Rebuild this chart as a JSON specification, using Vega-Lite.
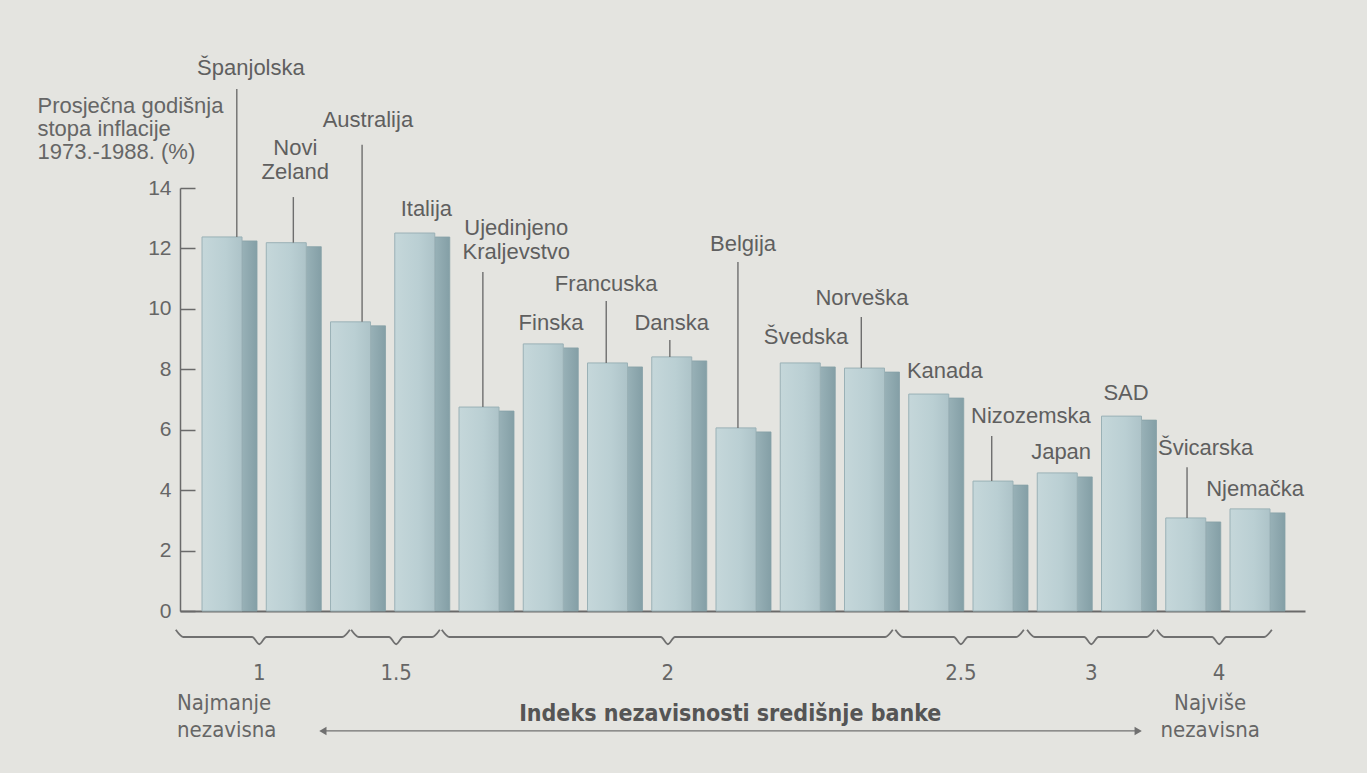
{
  "$schema": "https://vega.github.io/schema/vega-lite/v6.json",
  "width": 1125,
  "height": 423,
  "autosize": {"type": "none"},
  "padding": {"left": 180, "top": 188, "right": 62, "bottom": 162},
  "background": "#e4e4e0",
  "config": {"view": {"stroke": null}, "font": "Liberation Sans"},
  "datasets": {
    "bars": [
      {"pos": 1, "country": "Španjolska", "value": 12.38, "tx": 1.45, "ty": 17.75, "lx": 1.23, "ly": 17.28},
      {"pos": 2, "country": "Novi Zeland", "value": 12.19, "tx": 2.14, "ty": 15.1, "lx": 2.11, "ly": 13.7},
      {"pos": 3, "country": "Australija", "value": 9.57, "tx": 3.27, "ty": 16.02, "lx": 3.18, "ly": 15.43},
      {"pos": 4, "country": "Italija", "value": 12.51, "tx": 4.18, "ty": 13.08, "lx": null, "ly": null},
      {"pos": 5, "country": "Ujedinjeno Kraljevstvo", "value": 6.75, "tx": 5.58, "ty": 12.45, "lx": 5.06, "ly": 11.22},
      {"pos": 6, "country": "Finska", "value": 8.84, "tx": 6.12, "ty": 9.3, "lx": null, "ly": null},
      {"pos": 7, "country": "Francuska", "value": 8.21, "tx": 6.98, "ty": 10.6, "lx": 6.98, "ly": 10.26},
      {"pos": 8, "country": "Danska", "value": 8.41, "tx": 8.0, "ty": 9.3, "lx": 7.97, "ly": 8.97},
      {"pos": 9, "country": "Belgija", "value": 6.06, "tx": 9.11, "ty": 11.92, "lx": 9.03, "ly": 11.55},
      {"pos": 10, "country": "Švedska", "value": 8.21, "tx": 10.09, "ty": 8.84, "lx": null, "ly": null},
      {"pos": 11, "country": "Norveška", "value": 8.04, "tx": 10.96, "ty": 10.13, "lx": 10.95, "ly": 9.73},
      {"pos": 12, "country": "Kanada", "value": 7.18, "tx": 12.25, "ty": 7.72, "lx": null, "ly": null},
      {"pos": 13, "country": "Nizozemska", "value": 4.3, "tx": 13.59, "ty": 6.22, "lx": 12.98, "ly": 5.79},
      {"pos": 14, "country": "Japan", "value": 4.57, "tx": 14.06, "ty": 5.03, "lx": null, "ly": null},
      {"pos": 15, "country": "SAD", "value": 6.45, "tx": 15.07, "ty": 6.99, "lx": null, "ly": null},
      {"pos": 16, "country": "Švicarska", "value": 3.08, "tx": 16.31, "ty": 5.16, "lx": 16.02, "ly": 4.76},
      {"pos": 17, "country": "Njemačka", "value": 3.38, "tx": 17.08, "ty": 3.81, "lx": null, "ly": null}
    ],
    "braces": [
      {"g": "1", "x": 0.28, "y": -0.62}, {"g": "1", "x": 0.4, "y": -0.86}, {"g": "1", "x": 1.47, "y": -0.86}, {"g": "1", "x": 1.58, "y": -1.1}, {"g": "1", "x": 1.69, "y": -0.86}, {"g": "1", "x": 2.87, "y": -0.86}, {"g": "1", "x": 2.99, "y": -0.62},
      {"g": "1.5", "x": 3.01, "y": -0.62}, {"g": "1.5", "x": 3.13, "y": -0.86}, {"g": "1.5", "x": 3.6, "y": -0.86}, {"g": "1.5", "x": 3.71, "y": -1.1}, {"g": "1.5", "x": 3.82, "y": -0.86}, {"g": "1.5", "x": 4.27, "y": -0.86}, {"g": "1.5", "x": 4.39, "y": -0.62},
      {"g": "2", "x": 4.42, "y": -0.62}, {"g": "2", "x": 4.54, "y": -0.86}, {"g": "2", "x": 7.83, "y": -0.86}, {"g": "2", "x": 7.94, "y": -1.1}, {"g": "2", "x": 8.05, "y": -0.86}, {"g": "2", "x": 11.32, "y": -0.86}, {"g": "2", "x": 11.44, "y": -0.62},
      {"g": "2.5", "x": 11.48, "y": -0.62}, {"g": "2.5", "x": 11.6, "y": -0.86}, {"g": "2.5", "x": 12.39, "y": -0.86}, {"g": "2.5", "x": 12.5, "y": -1.1}, {"g": "2.5", "x": 12.61, "y": -0.86}, {"g": "2.5", "x": 13.36, "y": -0.86}, {"g": "2.5", "x": 13.48, "y": -0.62},
      {"g": "3", "x": 13.53, "y": -0.62}, {"g": "3", "x": 13.65, "y": -0.86}, {"g": "3", "x": 14.42, "y": -0.86}, {"g": "3", "x": 14.53, "y": -1.1}, {"g": "3", "x": 14.64, "y": -0.86}, {"g": "3", "x": 15.39, "y": -0.86}, {"g": "3", "x": 15.51, "y": -0.62},
      {"g": "4", "x": 15.55, "y": -0.62}, {"g": "4", "x": 15.67, "y": -0.86}, {"g": "4", "x": 16.41, "y": -0.86}, {"g": "4", "x": 16.52, "y": -1.1}, {"g": "4", "x": 16.63, "y": -0.86}, {"g": "4", "x": 17.22, "y": -0.86}, {"g": "4", "x": 17.34, "y": -0.62}
    ],
    "groups": [
      {"g": "1", "c": 1.58}, {"g": "1.5", "c": 3.71}, {"g": "2", "c": 7.94},
      {"g": "2.5", "c": 12.5}, {"g": "3", "c": 14.53}, {"g": "4", "c": 16.52}
    ],
    "notes": [
      {"text": "Najmanje nezavisna", "x": 0.3, "y": -3.28, "kind": "left"},
      {"text": "Najviše nezavisna", "x": 16.38, "y": -3.28, "kind": "center"},
      {"text": "Indeks nezavisnosti središnje banke", "x": 8.91, "y": -3.64, "kind": "title"}
    ],
    "arrow": [{"from": 2.57, "to": 15.26, "level": -3.97}]
  },
  "layer": [
    {
      "data": {"name": "bars"},
      "mark": {"type": "rect", "xOffset": 20, "x2Offset": 35, "yOffset": 4,
        "fill": {"gradient": "linear", "x1": 0, "x2": 1, "y1": 0, "y2": 0,
          "stops": [{"offset": 0, "color": "#98b1b7"}, {"offset": 1, "color": "#849fa6"}]},
        "stroke": "#86a1a7", "strokeWidth": 0.8},
      "encoding": {
        "x": {"field": "pos", "type": "quantitative",
          "scale": {"domain": [0.346, 17.856], "nice": false, "zero": false},
          "axis": {"labels": false, "ticks": false, "title": null, "grid": false, "domainColor": "#6a6a6a", "domainWidth": 2}},
        "x2": {"field": "pos"},
        "y": {"field": "value", "type": "quantitative",
          "scale": {"domain": [0, 14], "nice": false, "zero": false},
          "axis": {
            "values": [0, 2, 4, 6, 8, 10, 12, 14], "grid": false,
            "labelFontSize": 21, "labelColor": "#666666", "labelFont": "Liberation Sans",
            "tickSize": -15, "tickColor": "#6a6a6a", "tickWidth": 1.5,
            "domainColor": "#6a6a6a", "domainWidth": 1.5, "labelPadding": 24,
            "title": ["Prosječna godišnja", "stopa inflacije", "1973.-1988. (%)"],
            "titleAngle": 0, "titleAlign": "left", "titleBaseline": "alphabetic",
            "titleX": -143, "titleY": -76, "titleFontSize": 22, "titleFontWeight": "normal",
            "titleColor": "#666666", "titleFont": "Liberation Sans", "titleLineHeight": 23
          }},
        "y2": {"datum": 0}
      }
    },
    {
      "data": {"name": "bars"},
      "mark": {"type": "rect", "xOffset": -20, "x2Offset": 20,
        "fill": {"gradient": "linear", "x1": 0, "x2": 1, "y1": 0, "y2": 0,
          "stops": [{"offset": 0, "color": "#c5d7da"}, {"offset": 0.6, "color": "#bacfd3"}, {"offset": 1, "color": "#adc3c8"}]},
        "stroke": "#9ab1b6", "strokeWidth": 1},
      "encoding": {
        "x": {"field": "pos", "type": "quantitative"},
        "x2": {"field": "pos"},
        "y": {"field": "value", "type": "quantitative"},
        "y2": {"datum": 0}
      }
    },
    {
      "data": {"name": "bars"},
      "transform": [{"filter": "datum.ly != null"}],
      "mark": {"type": "rule", "color": "#6e6e6e", "strokeWidth": 1.4},
      "encoding": {
        "x": {"field": "lx", "type": "quantitative"},
        "y": {"field": "ly", "type": "quantitative"},
        "y2": {"field": "value"}
      }
    },
    {
      "data": {"name": "bars"},
      "mark": {"type": "text", "align": "center", "baseline": "alphabetic", "fontSize": 22,
        "lineBreak": " ", "lineHeight": 24, "color": "#5f5f5f", "font": "Liberation Sans"},
      "encoding": {
        "x": {"field": "tx", "type": "quantitative"},
        "y": {"field": "ty", "type": "quantitative"},
        "text": {"field": "country"}
      }
    },
    {
      "data": {"name": "braces"},
      "mark": {"type": "line", "interpolate": "monotone", "color": "#707070", "strokeWidth": 1.8},
      "encoding": {
        "x": {"field": "x", "type": "quantitative"},
        "y": {"field": "y", "type": "quantitative"},
        "detail": {"field": "g"}
      }
    },
    {
      "data": {"name": "groups"},
      "mark": {"type": "text", "align": "center", "baseline": "alphabetic", "fontSize": 22,
        "color": "#666666", "font": "DejaVu Sans Condensed, Liberation Sans"},
      "encoding": {
        "x": {"field": "c", "type": "quantitative"},
        "y": {"datum": -2.28},
        "text": {"field": "g"}
      }
    },
    {
      "data": {"name": "notes"},
      "transform": [{"filter": "datum.kind == 'left'"}],
      "mark": {"type": "text", "align": "left", "baseline": "alphabetic", "fontSize": 22,
        "lineBreak": " ", "lineHeight": 27, "color": "#666666", "font": "DejaVu Sans Condensed, Liberation Sans"},
      "encoding": {
        "x": {"field": "x", "type": "quantitative"},
        "y": {"field": "y", "type": "quantitative"},
        "text": {"field": "text"}
      }
    },
    {
      "data": {"name": "notes"},
      "transform": [{"filter": "datum.kind == 'center'"}],
      "mark": {"type": "text", "align": "center", "baseline": "alphabetic", "fontSize": 22,
        "lineBreak": " ", "lineHeight": 27, "color": "#666666", "font": "DejaVu Sans Condensed, Liberation Sans"},
      "encoding": {
        "x": {"field": "x", "type": "quantitative"},
        "y": {"field": "y", "type": "quantitative"},
        "text": {"field": "text"}
      }
    },
    {
      "data": {"name": "notes"},
      "transform": [{"filter": "datum.kind == 'title'"}],
      "mark": {"type": "text", "align": "center", "baseline": "alphabetic", "fontSize": 23,
        "fontWeight": "bold", "color": "#555555", "font": "DejaVu Sans Condensed, Liberation Sans"},
      "encoding": {
        "x": {"field": "x", "type": "quantitative"},
        "y": {"field": "y", "type": "quantitative"},
        "text": {"field": "text"}
      }
    },
    {
      "data": {"name": "arrow"},
      "mark": {"type": "rule", "color": "#707070", "strokeWidth": 1.3},
      "encoding": {
        "x": {"field": "from", "type": "quantitative"},
        "x2": {"field": "to"},
        "y": {"field": "level", "type": "quantitative"}
      }
    },
    {
      "data": {"name": "arrow"},
      "mark": {"type": "point", "shape": "triangle-left", "filled": true, "size": 70, "color": "#707070", "opacity": 1},
      "encoding": {
        "x": {"field": "from", "type": "quantitative"},
        "y": {"field": "level", "type": "quantitative"}
      }
    },
    {
      "data": {"name": "arrow"},
      "mark": {"type": "point", "shape": "triangle-right", "filled": true, "size": 70, "color": "#707070", "opacity": 1},
      "encoding": {
        "x": {"field": "to", "type": "quantitative"},
        "y": {"field": "level", "type": "quantitative"}
      }
    }
  ]
}
